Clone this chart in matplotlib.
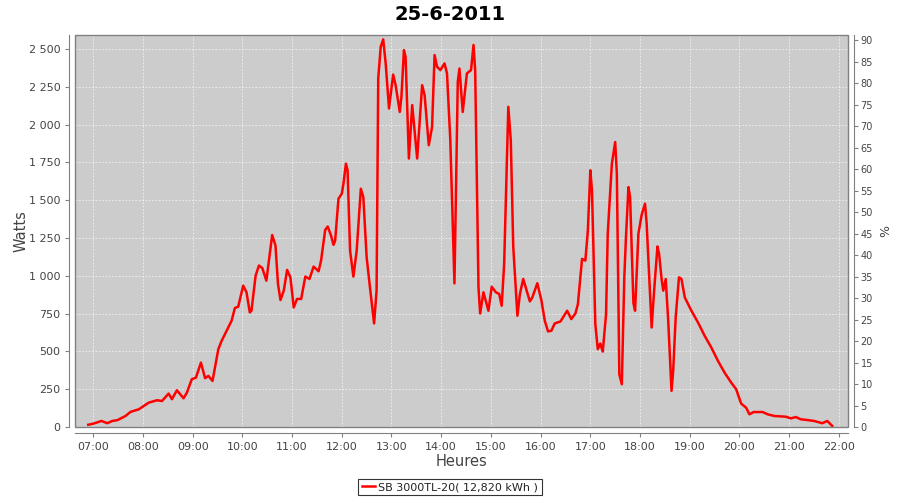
import pandas as pd
import matplotlib
matplotlib.use('Agg')
import matplotlib.pyplot as plt
import matplotlib.dates as mdates
from matplotlib.patches import Rectangle
from matplotlib.ticker import FuncFormatter, MultipleLocator

# data (time of day, watts)
times = ['06:54', '07:00', '07:10', '07:17', '07:23', '07:29', '07:39', '07:45', '07:55', '08:01',
         '08:07', '08:17', '08:23', '08:31', '08:35', '08:41', '08:45', '08:49', '08:53', '08:59',
         '09:04', '09:10', '09:15', '09:19', '09:24', '09:31', '09:35', '09:41', '09:47', '09:51',
         '09:55', '10:01', '10:05', '10:09', '10:11', '10:16', '10:20', '10:24', '10:29', '10:36',
         '10:40', '10:43', '10:46', '10:50', '10:54', '10:58', '11:02', '11:06', '11:11', '11:16',
         '11:21', '11:26', '11:32', '11:35', '11:40', '11:43', '11:47', '11:50', '11:52', '11:56',
         '12:00', '12:02', '12:05', '12:07', '12:10', '12:14', '12:18', '12:23', '12:26', '12:30',
         '12:34', '12:39', '12:42', '12:44', '12:47', '12:50', '12:53', '12:57', '13:02', '13:05',
         '13:10', '13:12', '13:15', '13:17', '13:21', '13:25', '13:31', '13:37', '13:40', '13:45',
         '13:49', '13:52', '13:55', '13:59', '14:04', '14:07', '14:11', '14:16', '14:20', '14:22',
         '14:26', '14:31', '14:36', '14:39', '14:41', '14:45', '14:47', '14:51', '14:57', '15:01',
         '15:06', '15:10', '15:13', '15:16', '15:21', '15:24', '15:27', '15:32', '15:35', '15:39',
         '15:47', '15:50', '15:56', '16:01', '16:05', '16:09', '16:13', '16:17', '16:24', '16:32',
         '16:37', '16:42', '16:45', '16:50', '16:54', '16:57', '17:00', '17:02', '17:06', '17:09',
         '17:12', '17:15', '17:19', '17:21', '17:26', '17:30', '17:32', '17:35', '17:38', '17:41',
         '17:43', '17:46', '17:48', '17:52', '17:54', '17:58', '18:02', '18:06', '18:08', '18:14',
         '18:17', '18:21', '18:23', '18:26', '18:28', '18:31', '18:34', '18:38', '18:40', '18:43',
         '18:47', '18:50', '18:54', '19:02', '19:10', '19:18', '19:26', '19:34', '19:42', '19:50',
         '19:56', '20:02', '20:08', '20:12', '20:17', '20:28', '20:34', '20:42', '20:56', '21:02',
         '21:08', '21:14', '21:22', '21:30', '21:40', '21:46', '21:52']
watts = [15, 22, 40, 25, 40, 45, 73, 100, 117, 139,
         161, 177, 172, 221, 184, 243, 217, 190, 227, 316,
         327, 426, 323, 338, 305, 515, 570, 637, 703, 787,
         796, 935, 891, 758, 769, 1001, 1068, 1052, 968, 1270,
         1200, 946, 840, 902, 1039, 990, 791, 847, 847, 995,
         979, 1061, 1030, 1101, 1304, 1326, 1267, 1205, 1233, 1510,
         1543, 1609, 1742, 1698, 1167, 995, 1167, 1576, 1521, 1123,
         924, 685, 902, 2306, 2515, 2564, 2405, 2107, 2331, 2261,
         2084, 2184, 2493, 2449, 1776, 2129, 1776, 2261, 2195, 1864,
         1985, 2460, 2383, 2361, 2405, 2339, 1896, 950, 2283, 2371,
         2084, 2339, 2361, 2527, 2361, 924, 751, 891, 769, 928,
         891, 880, 802, 1079, 2118, 1896, 1189, 736, 880, 979,
         831, 857, 951, 836, 703, 632, 637, 685, 698, 769,
         714, 751, 813, 1112, 1101, 1300, 1698, 1565, 681, 515,
         552, 499, 747, 1278, 1742, 1885, 1676, 349, 283, 990,
         1255, 1587, 1521, 820, 769, 1278, 1405, 1477, 1344, 658,
         902, 1194, 1145, 979, 902, 979, 703, 239, 371, 725,
         990, 979, 857, 769, 691, 603, 526, 438, 360, 294,
         250, 155, 128, 84, 99, 99, 84, 73, 68, 57,
         66, 51, 46, 40, 25, 40, 7]

day = '2011-06-25'
title = '25-6-2011'
series_label = 'SB 3000TL-20( 12,820 kWh )'

t = pd.to_datetime([day + ' ' + s for s in times])
x = mdates.date2num(t)

bg_col = '#cccccc'
txt_col = '#444444'
frame_col = '#808080'

fig = plt.figure(figsize=(9, 5), dpi=100)
ax = fig.add_axes([75/900, 1-427/500, (848-75)/900, (427-35)/500])
ax.set_facecolor(bg_col)

ax.plot(x, watts, '-', color='#ff0000', lw=1.8, label=series_label, zorder=3)

x0 = mdates.date2num(pd.Timestamp(day + ' 06:38'))
x1 = mdates.date2num(pd.Timestamp(day + ' 22:11'))
ax.set_xlim(x0, x1)
ax.set_ylim(0, 2593)

ax.xaxis.set_major_locator(mdates.HourLocator())
ax.xaxis.set_major_formatter(mdates.DateFormatter('%H:%M'))
ax.yaxis.set_major_locator(MultipleLocator(250))
ax.yaxis.set_major_formatter(FuncFormatter(lambda v, p: '{:,.0f}'.format(v).replace(',', ' ')))

ax.grid(True, color='white', alpha=0.75, ls=(0, (2, 2)), lw=0.6, zorder=1)
ax.set_axisbelow(True)

# axis lines sit a few pixels away from the plot frame
ax.spines['top'].set_visible(False)
ax.spines['right'].set_visible(False)
for s in ['left', 'bottom']:
    ax.spines[s].set_position(('outward', 4))
    ax.spines[s].set_color(frame_col)
ax.add_patch(Rectangle((0, 0), 1, 1, transform=ax.transAxes, fill=False,
                       ec=frame_col, lw=1, clip_on=False, zorder=4))
ax.tick_params(colors=txt_col, labelsize=8, length=3, color=frame_col)

ax.set_ylabel('Watts', fontsize=10.5, color=txt_col)
ax.yaxis.set_label_coords(-0.06, 0.5)
ax.set_xlabel('Heures', fontsize=10.5, color=txt_col, labelpad=2)

ax2 = ax.twinx()
ax2.set_ylim(0, 91.2)
ax2.yaxis.set_major_locator(MultipleLocator(5))
ax2.tick_params(colors=txt_col, labelsize=7, length=3, color=frame_col, pad=2)
ax2.set_ylabel('%', fontsize=9, color=txt_col)
ax2.yaxis.set_label_coords(1.041, 0.5)
for s in ['left', 'top', 'bottom']:
    ax2.spines[s].set_visible(False)
ax2.spines['right'].set_position(('outward', 4))
ax2.spines['right'].set_color(frame_col)

fig.text(0.5, 0.972, title, ha='center', va='center', fontsize=14, fontweight='bold', color='black')

leg = fig.legend(loc='center', bbox_to_anchor=(0.5, 1-487/500), fontsize=8, frameon=True,
                 fancybox=False, handlelength=1.2, handletextpad=0.3, borderpad=0.3,
                 borderaxespad=0)
leg.get_frame().set_edgecolor('black')
leg.get_frame().set_linewidth(0.8)
for tx in leg.get_texts():
    tx.set_color('#222222')

fig.savefig('out.png', dpi=100)
